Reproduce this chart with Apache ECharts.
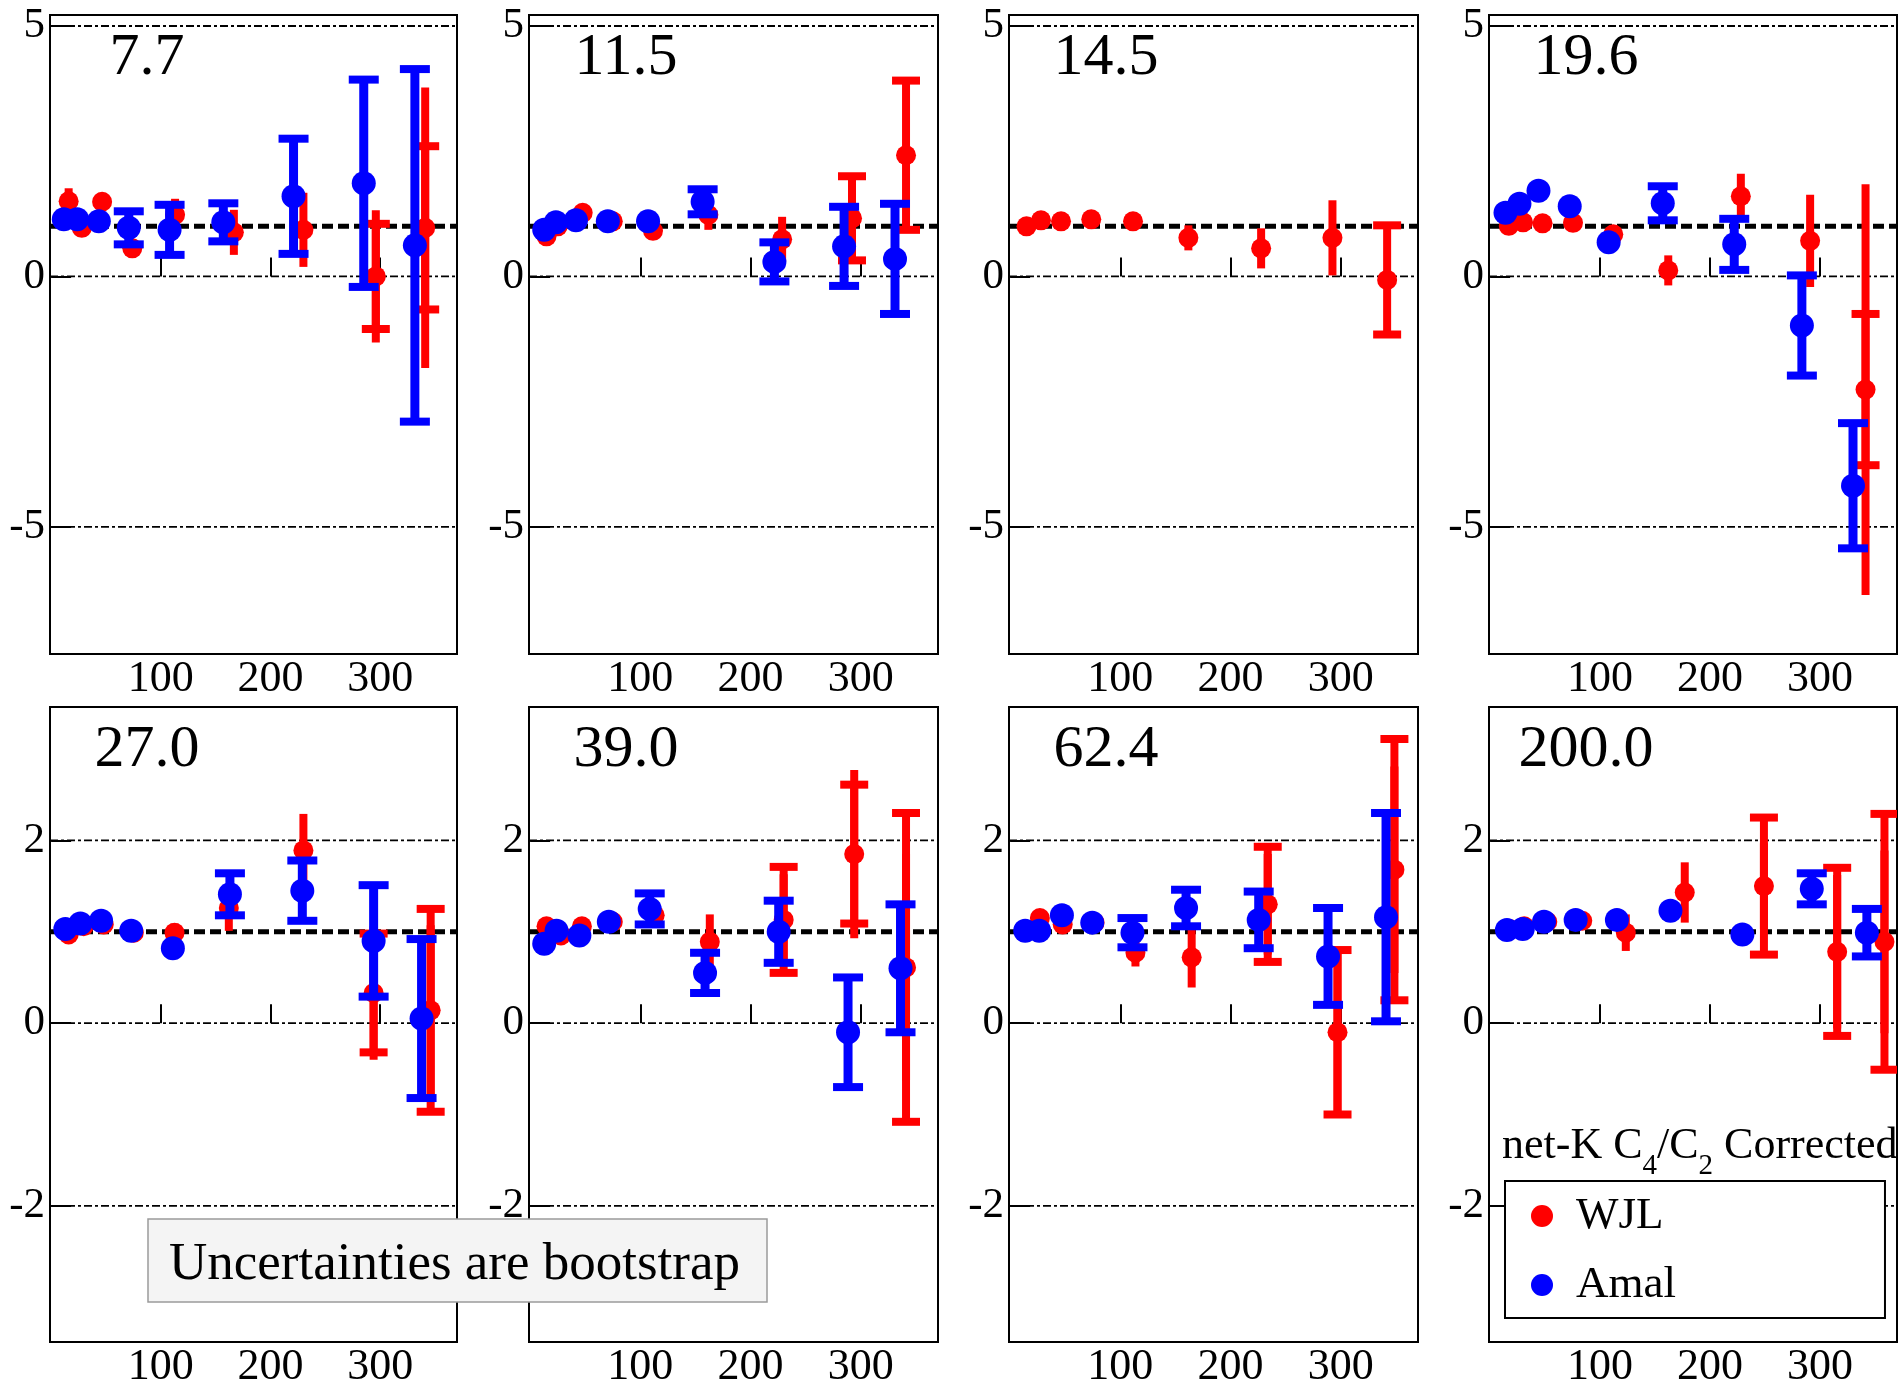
<!DOCTYPE html>
<html>
<head>
<meta charset="utf-8">
<script src="https://cdn.jsdelivr.net/npm/echarts@6/dist/echarts.min.js"></script>
<style>
  html, body { margin: 0; padding: 0; background: #fff; }
  #chart { width: 1898px; height: 1389px; }
</style>
</head>
<body>
<div id="chart"></div>
<script>
// ---------------- data ----------------
// panel labels (collision energies)
const PANEL_LABELS = ['7.7', '11.5', '14.5', '19.6', '27.0', '39.0', '62.4', '200.0'];
const X_TICKS = [100, 200, 300];
const Y_TICKS_TOP = [-5, 0, 5];
const Y_TICKS_BOTTOM = [-2, 0, 2];
const REF_VALUE = 1;
const X_RANGE = [-1, 370];
const Y_RANGE_TOP = [-7.54, 5.22];
const Y_RANGE_BOTTOM = [-3.49, 3.46];

// WJL rows: [x, value, capped error, uncapped error]
const WJL_7_7 = [[16,1.50,0,0.26],[28,0.97,0,0],[46.5,1.49,0,0],[74,0.56,0,0],[113,1.23,0,0.32],[166.6,0.88,0,0.45],[230,0.93,0,0.74],[296,0.0,1.05,1.32],[341,0.97,1.63,2.80]];
const WJL_11_5 = [[14.9,0.80,0,0],[25,1.0,0,0],[47.7,1.27,0,0],[75,1.10,0,0],[111.5,0.91,0,0],[161.7,1.23,0,0.30],[228.6,0.74,0,0.45],[292,1.16,0.84,0],[341,2.42,1.49,0]];
const WJL_14_5 = [[14.9,1.0,0,0],[28,1.12,0,0],[46.2,1.10,0,0],[73.6,1.14,0,0],[111.5,1.10,0,0],[161.7,0.77,0,0.25],[227.7,0.56,0,0.40],[292.4,0.77,0,0.75],[342,-0.07,1.09,0]];
const WJL_19_6 = [[17,1.01,0,0],[30,1.08,0,0],[47.7,1.06,0,0],[75.4,1.07,0,0],[112,0.84,0,0],[162,0.12,0,0.30],[228,1.60,0,0.45],[291,0.71,0,0.92],[341.4,-2.26,1.51,4.10]];
const WJL_27_0 = [[16,0.97,0,0],[29.8,1.06,0,0],[48,1.08,0,0],[75.4,0.99,0,0],[112.5,0.99,0,0.10],[162,1.26,0,0.25],[230,1.89,0,0.40],[294,0.33,0.65,0.73],[346,0.14,1.11,0.93]];
const WJL_39_0 = [[14.9,1.06,0,0],[28,0.96,0,0],[47,1.06,0,0],[75,1.11,0,0],[113,1.18,0,0],[163,0.89,0,0.30],[230,1.13,0.58,0.50],[294,1.85,0.76,0.92],[341,0.61,1.69,1.24]];
const WJL_62_4 = [[15.8,1.02,0,0],[27,1.15,0,0],[47.7,1.08,0,0],[76.6,1.10,0,0],[113.7,0.77,0,0.15],[164.7,0.72,0,0.33],[233.7,1.30,0.63,0.55],[297,-0.10,0.90,0.90],[348.6,1.68,1.43,1.13]];
const WJL_200_0 = [[17.7,1.03,0,0],[31,1.06,0,0],[52,1.11,0,0],[83.8,1.12,0,0],[123.4,0.99,0,0.20],[177,1.43,0,0.33],[249,1.50,0.75,0.47],[315.6,0.78,0.92,0.84],[358.6,0.89,1.40,1.00]];

// Amal rows: [x, value, capped error]
const AMAL_7_7 = [[11.6,1.14,0],[23.7,1.14,0],[43.5,1.10,0],[70.8,0.97,0.33],[108,0.93,0.50],[157,1.08,0.38],[221,1.60,1.15],[285,1.86,2.07],[331.6,0.62,3.52]];
const AMAL_11_5 = [[12.8,0.93,0],[23.4,1.08,0],[41.6,1.12,0],[70.5,1.10,0],[107,1.10,0],[156.5,1.49,0.25],[221.6,0.29,0.39],[284.8,0.60,0.79],[331,0.35,1.10]];
const AMAL_14_5 = [];
const AMAL_19_6 = [[14,1.27,0],[26.7,1.45,0],[44,1.71,0],[72.4,1.40,0],[107.8,0.68,0],[157,1.46,0.34],[222,0.64,0.51],[283.5,-0.98,1.0],[330,-4.18,1.25]];
const AMAL_27_0 = [[13,1.03,0],[26.7,1.09,0],[45.6,1.12,0],[73,1.01,0],[111,0.82,0],[163,1.41,0.23],[229,1.45,0.33],[294,0.90,0.61],[337.7,0.05,0.87]];
const AMAL_39_0 = [[12.8,0.87,0],[24,1.01,0],[44.7,0.96,0],[71.4,1.11,0],[108.5,1.25,0.17],[158.7,0.55,0.22],[225.5,1.0,0.34],[288.4,-0.10,0.60],[336,0.60,0.70]];
const AMAL_62_4 = [[13.7,1.01,0],[26.4,1.01,0],[47,1.18,0],[74.5,1.10,0],[111,0.99,0.16],[159.6,1.26,0.20],[225.5,1.13,0.31],[288.4,0.73,0.53],[341,1.16,1.14]];
const AMAL_200_0 = [[15.3,1.02,0],[29.7,1.03,0],[49,1.11,0],[77.8,1.13,0],[115.3,1.13,0],[164,1.23,0],[229.4,0.97,0],[292.5,1.47,0.17],[342.6,0.99,0.26]];

const WJL_ALL = [WJL_7_7, WJL_11_5, WJL_14_5, WJL_19_6, WJL_27_0, WJL_39_0, WJL_62_4, WJL_200_0];
const AMAL_ALL = [AMAL_7_7, AMAL_11_5, AMAL_14_5, AMAL_19_6, AMAL_27_0, AMAL_39_0, AMAL_62_4, AMAL_200_0];

// ---------------- layout / style ----------------
const FONT = '"Liberation Serif", "Times New Roman", Times, serif';
const RED = '#ff0000', BLUE = '#0000ff';
const COL_LEFT = [50, 529, 1009, 1489];
const COL_WIDTH = [407, 409, 409, 408];
const ROW_TOP = [15, 707];
const ROW_HEIGHT = [639, 636];

const chart = echarts.init(document.getElementById('chart'), null, { renderer: 'canvas' });

function errRender(color, lw, capW, capT) {
  return function (params, api) {
    const x = api.value(0), y = api.value(1);
    const ec = api.value(2) || 0, el = api.value(3) || 0;
    const children = [];
    const seg = (e) => {
      const p1 = api.coord([x, y - e]), p2 = api.coord([x, y + e]);
      return { type: 'line', shape: { x1: p1[0], y1: p1[1], x2: p2[0], y2: p2[1] },
               style: { stroke: color, lineWidth: lw } };
    };
    if (el > 0) children.push(seg(el));
    if (ec > 0) {
      children.push(seg(ec));
      [y - ec, y + ec].forEach(v => {
        const p = api.coord([x, v]);
        children.push({ type: 'line', shape: { x1: p[0] - capW / 2, y1: p[1], x2: p[0] + capW / 2, y2: p[1] },
                        style: { stroke: color, lineWidth: capT } });
      });
    }
    return { type: 'group', children };
  };
}

function refRender(params, api) {
  const cs = params.coordSys;
  const v = api.value(1);
  const py = api.coord([api.value(0), v])[1];
  const isRef = (v === REF_VALUE);
  return {
    type: 'line',
    shape: { x1: cs.x, y1: py, x2: cs.x + cs.width, y2: py },
    style: isRef ? { stroke: '#000', lineWidth: 5, lineDash: [11, 5] }
                 : { stroke: '#000', lineWidth: 1.8, lineDash: [8, 3, 3, 3] }
  };
}

const grids = [], xAxes = [], yAxes = [], series = [], graphics = [];

for (let i = 0; i < 8; i++) {
  const row = i < 4 ? 0 : 1, col = i % 4;
  const yTicks = row === 0 ? Y_TICKS_TOP : Y_TICKS_BOTTOM;
  const yRange = row === 0 ? Y_RANGE_TOP : Y_RANGE_BOTTOM;
  grids.push({ left: COL_LEFT[col], top: ROW_TOP[row], width: COL_WIDTH[col], height: ROW_HEIGHT[row],
               show: true, borderColor: '#000', borderWidth: 2, backgroundColor: 'transparent', containLabel: false });
  xAxes.push({
    type: 'value', gridIndex: i, min: X_RANGE[0], max: X_RANGE[1],
    axisLine: { show: false }, splitLine: { show: false },
    axisTick: { show: true, inside: true, length: 19, customValues: X_TICKS, lineStyle: { color: '#000', width: 2 } },
    axisLabel: { show: true, customValues: X_TICKS, margin: 3, color: '#000', fontSize: 44, fontFamily: FONT }
  });
  yAxes.push({
    type: 'value', gridIndex: i, min: yRange[0], max: yRange[1],
    axisLine: { show: false }, splitLine: { show: false },
    axisTick: { show: true, inside: true, length: 20, customValues: yTicks, lineStyle: { color: '#000', width: 2 } },
    axisLabel: { show: true, customValues: yTicks, margin: 5, color: '#000', fontSize: 43, fontFamily: FONT }
  });

  // grid lines and reference line
  series.push({
    type: 'custom', name: 'grid', xAxisIndex: i, yAxisIndex: i, z: 1, silent: true,
    data: yTicks.concat([REF_VALUE]).map(v => [X_RANGE[0], v]),
    encode: { x: 0, y: 1 }, renderItem: refRender
  });
  // WJL
  series.push({
    type: 'custom', name: 'WJL err', xAxisIndex: i, yAxisIndex: i, z: 2, clip: true, silent: true,
    data: WJL_ALL[i], encode: { x: 0, y: 1 }, renderItem: errRender(RED, 8, 28, 8)
  });
  series.push({
    type: 'scatter', name: 'WJL', xAxisIndex: i, yAxisIndex: i, z: 3, silent: true,
    data: WJL_ALL[i], encode: { x: 0, y: 1 }, symbol: 'circle', symbolSize: 20,
    itemStyle: { color: RED, opacity: 1 }
  });
  // Amal
  series.push({
    type: 'custom', name: 'Amal err', xAxisIndex: i, yAxisIndex: i, z: 4, clip: true, silent: true,
    data: AMAL_ALL[i], encode: { x: 0, y: 1 }, renderItem: errRender(BLUE, 9, 30, 8)
  });
  series.push({
    type: 'scatter', name: 'Amal', xAxisIndex: i, yAxisIndex: i, z: 5, silent: true,
    data: AMAL_ALL[i], encode: { x: 0, y: 1 }, symbol: 'circle', symbolSize: 24,
    itemStyle: { color: BLUE, opacity: 1 }
  });

  // panel label
  graphics.push({
    type: 'text', z: 50,
    x: COL_LEFT[col] + 97, y: row === 0 ? 58 : 750,
    style: { text: PANEL_LABELS[i], font: '60px ' + FONT, fill: '#000',
             textAlign: 'center', textVerticalAlign: 'middle' }
  });
}

// note box
graphics.push({
  type: 'group', z: 100,
  children: [
    { type: 'rect', z: 100, shape: { x: 148, y: 1219, width: 619, height: 83 },
      style: { fill: '#f4f4f4', stroke: '#9a9a9a', lineWidth: 1.5 } },
    { type: 'text', z: 101, x: 169, y: 1265,
      style: { text: 'Uncertainties are bootstrap', font: '53px ' + FONT, fill: '#000',
               textAlign: 'left', textVerticalAlign: 'middle' } }
  ]
});

// legend header
graphics.push({
  type: 'text', z: 100, x: 1502, y: 1124,
  style: {
    text: '{n|net-K C}{s|4}{n|/C}{s|2}{n| Corrected}',
    fill: '#000',
    textAlign: 'left', textVerticalAlign: 'top',
    rich: {
      n: { fontSize: 44, fontFamily: FONT, lineHeight: 50, verticalAlign: 'top', fill: '#000' },
      s: { fontSize: 29, fontFamily: FONT, lineHeight: 29, verticalAlign: 'top', padding: [28, 0, 0, 0], fill: '#000' }
    }
  }
});

chart.setOption({
  animation: false,
  backgroundColor: '#fff',
  grid: grids,
  xAxis: xAxes,
  yAxis: yAxes,
  legend: {
    left: 1505, top: 1181, orient: 'vertical',
    data: ['WJL', 'Amal'], icon: 'circle', selectedMode: false,
    itemWidth: 22, itemHeight: 22, itemGap: 21,
    padding: [11, 209, 9, 26],
    backgroundColor: '#fff', borderColor: '#000', borderWidth: 2, borderRadius: 0,
    textStyle: { fontSize: 45, fontFamily: FONT, color: '#000', lineHeight: 48, padding: [0, 0, 0, 18] },
    z: 60
  },
  series: series,
  graphic: graphics
});
</script>
</body>
</html>
